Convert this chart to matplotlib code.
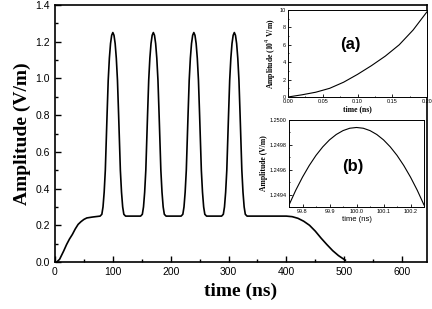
import numpy as np
import matplotlib.pyplot as plt
from matplotlib.ticker import MultipleLocator

# main trace: rising edge, one pulse profile repeated at each centre, falling edge
rise_t = [3, 8, 15, 20, 25, 30, 35, 40, 45, 50, 55, 65, 78]
rise_v = [0.0, 0.015, 0.06, 0.095, 0.125, 0.15, 0.18, 0.205, 0.22, 0.232, 0.24, 0.245, 0.25]

pulse_dt = [-22, -19, -17, -15, -13, -12, -10, -8, -6, -4, -2, 0,
            2, 4, 6, 8, 10, 12, 13, 15, 17, 19, 22]
pulse_v = [0.25, 0.26, 0.30, 0.38, 0.50, 0.60, 0.80, 0.99, 1.11, 1.19, 1.235, 1.25,
           1.235, 1.19, 1.11, 0.99, 0.80, 0.60, 0.50, 0.38, 0.30, 0.26, 0.25]
pulse_centres = [100, 170, 240, 310]

fall_t = [400, 410, 420, 430, 440, 450, 460, 470, 480, 490, 497, 502]
fall_v = [0.25, 0.247, 0.238, 0.222, 0.2, 0.168, 0.13, 0.095, 0.062, 0.035, 0.02, 0.01]

# inset (a): start of the signal
a_t = [0.0, 0.02, 0.04, 0.06, 0.08, 0.10, 0.12, 0.14, 0.16, 0.18, 0.20]
a_v = [0.0, 0.25, 0.55, 1.0, 1.7, 2.6, 3.6, 4.7, 6.0, 7.7, 9.8]

# inset (b): top of the first pulse
b_t = [99.75, 99.775, 99.80, 99.825, 99.85, 99.875, 99.90, 99.925, 99.95, 99.975, 100.0,
       100.025, 100.05, 100.075, 100.10, 100.125, 100.15, 100.175, 100.20, 100.225, 100.25]
b_v = [1.24932, 1.249438, 1.249543, 1.249636, 1.249717, 1.249785, 1.249841, 1.249884,
       1.249915, 1.249934, 1.24994, 1.249934, 1.249915, 1.249884, 1.249841, 1.249785,
       1.249717, 1.249636, 1.249543, 1.249438, 1.24932]

t = list(rise_t)
v = list(rise_v)
for c in pulse_centres:
    t += [c + d for d in pulse_dt]
    v += pulse_v
t += fall_t
v += fall_v

plt.rcParams['font.family'] = ['Liberation Sans', 'DejaVu Sans']
serif = 'Liberation Serif'

fig = plt.figure(figsize=(4.32, 3.09), dpi=100)
ax = fig.add_axes([0.1273, 0.1521, 0.861, 0.8317])
ax.plot(t, v, color='black', lw=1.2)
ax.set_xlim(0, 643)
ax.set_ylim(0, 1.4)
ax.xaxis.set_major_locator(MultipleLocator(100))
ax.xaxis.set_minor_locator(MultipleLocator(50))
ax.yaxis.set_major_locator(MultipleLocator(0.2))
ax.yaxis.set_minor_locator(MultipleLocator(0.1))
ax.tick_params(which='both', direction='in', labelsize=7.5, width=1)
ax.tick_params(which='major', length=4)
ax.tick_params(which='minor', length=2.5)
ax.yaxis.set_major_formatter(plt.FormatStrFormatter('%.1f'))
ax.set_xlabel('time (ns)', family=serif, fontweight='bold', fontsize=14)
ax.set_ylabel('Amplitude (V/m)', family=serif, fontweight='bold', fontsize=14, labelpad=3)
for s in ax.spines.values():
    s.set_linewidth(1.2)

# inset (a)
axa = fig.add_axes([0.6667, 0.6861, 0.3218, 0.2816])
axa.plot(a_t, a_v, color='black', lw=0.8)
axa.set_xlim(0, 0.2)
axa.set_ylim(0, 10)
axa.xaxis.set_major_locator(MultipleLocator(0.05))
axa.xaxis.set_minor_locator(MultipleLocator(0.025))
axa.yaxis.set_major_locator(MultipleLocator(2))
axa.yaxis.set_minor_locator(MultipleLocator(1))
axa.xaxis.set_major_formatter(plt.FormatStrFormatter('%.2f'))
axa.tick_params(which='both', direction='in', labelsize=4, pad=1.5, width=0.6)
axa.tick_params(which='major', length=2)
axa.tick_params(which='minor', length=1)
axa.set_xlabel('time (ns)', family=serif, fontweight='bold', fontsize=5.5, labelpad=1)
axa.set_ylabel('Amplitude (10$^{4}$ V/m)', family=serif, fontweight='bold', fontsize=5.5, labelpad=1)
axa.text(0.45, 0.6, '(a)', transform=axa.transAxes, fontsize=12, fontweight='bold',
         ha='center', va='center')
for s in axa.spines.values():
    s.set_linewidth(0.7)

# inset (b)
axb = fig.add_axes([0.669, 0.3301, 0.3125, 0.2816])
axb.plot(b_t, b_v, color='black', lw=0.8)
axb.set_xlim(99.75, 100.25)
axb.set_ylim(1.249304, 1.25)
axb.xaxis.set_major_locator(MultipleLocator(0.1))
axb.xaxis.set_minor_locator(MultipleLocator(0.05))
axb.yaxis.set_major_locator(MultipleLocator(0.0002))
axb.yaxis.set_minor_locator(MultipleLocator(0.0001))
axb.xaxis.set_major_formatter(plt.FormatStrFormatter('%.1f'))
axb.yaxis.set_major_formatter(plt.FormatStrFormatter('%.4f'))
axb.tick_params(which='both', direction='in', labelsize=4, pad=1.5, width=0.6)
axb.tick_params(which='major', length=2)
axb.tick_params(which='minor', length=1)
axb.set_xlabel('time (ns)', fontsize=5.5, labelpad=1.5)
axb.set_ylabel('Amplitude (V/m)', family=serif, fontweight='bold', fontsize=5.5, labelpad=1)
axb.text(0.47, 0.46, '(b)', transform=axb.transAxes, fontsize=12, fontweight='bold',
         ha='center', va='center')
for s in axb.spines.values():
    s.set_linewidth(0.7)

fig.savefig('out.png', dpi=100)
